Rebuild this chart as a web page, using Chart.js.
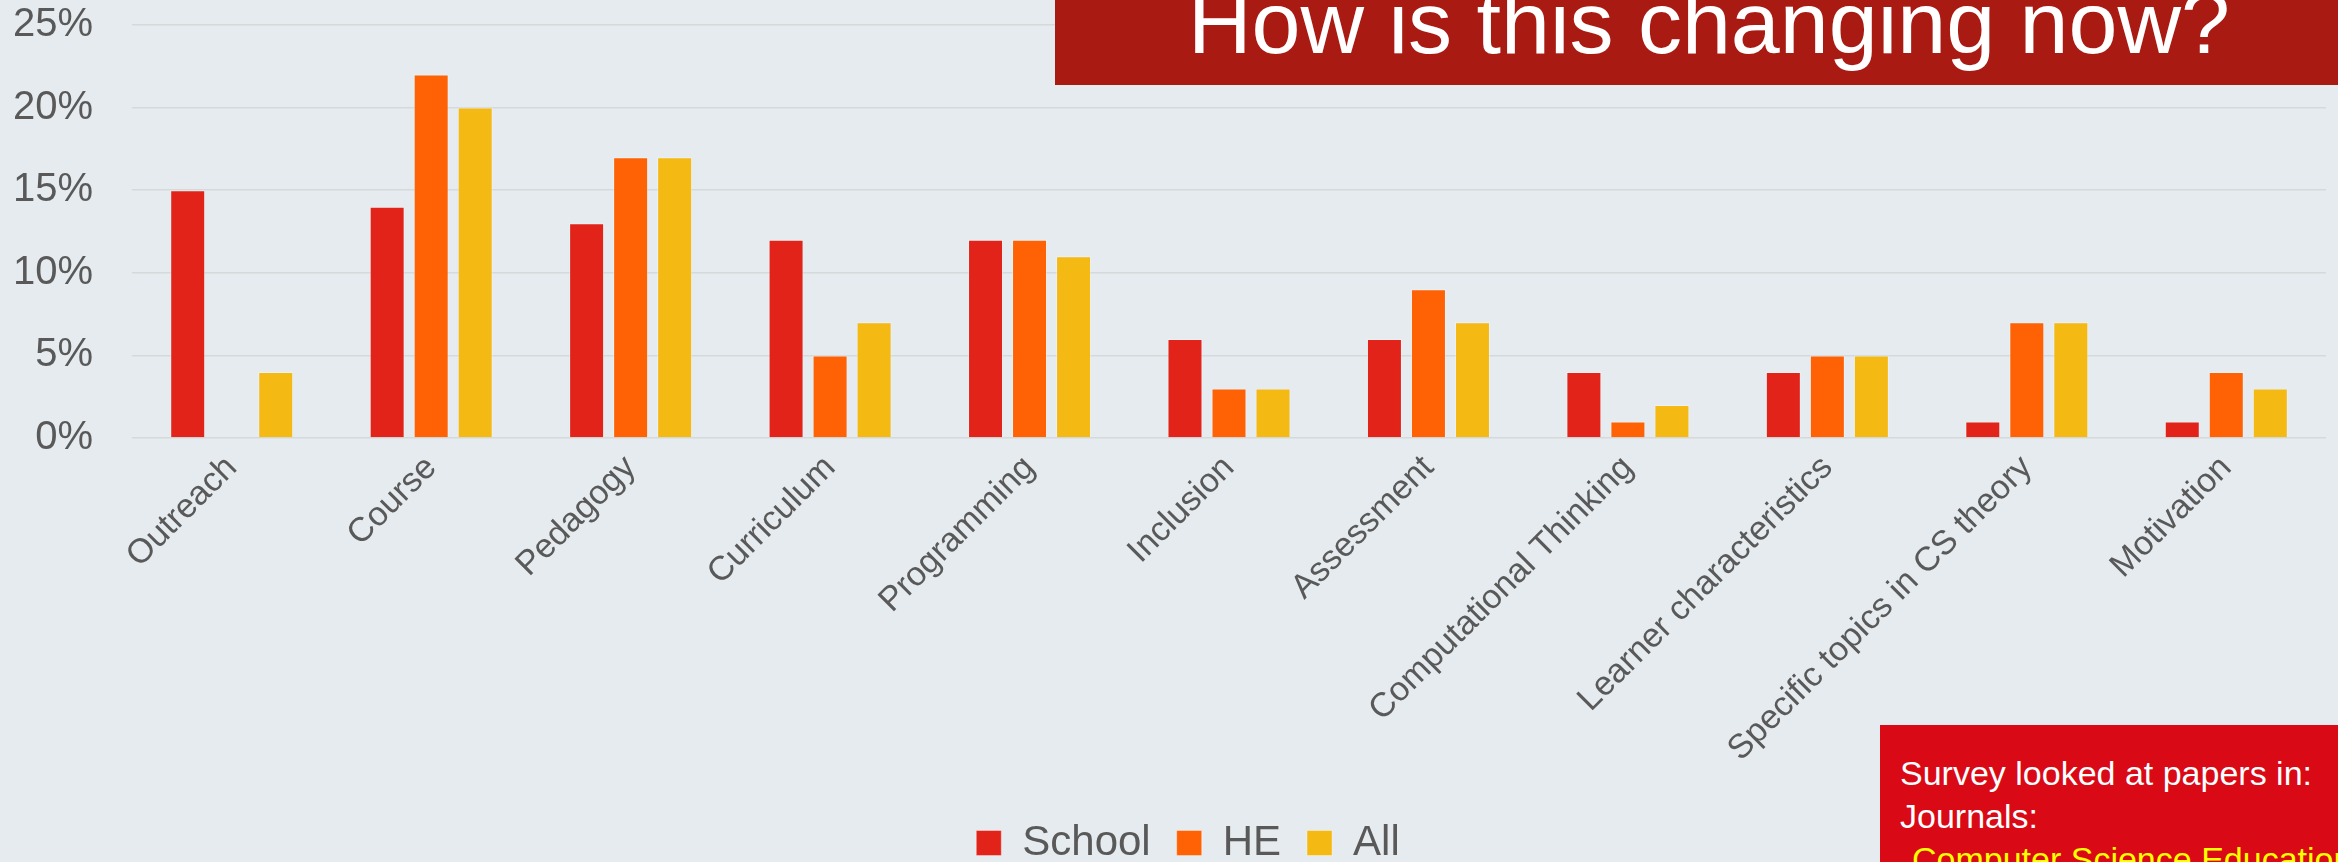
<!DOCTYPE html>
<html>
<head>
<meta charset="utf-8">
<script src="https://cdn.jsdelivr.net/npm/chart.js@4.4.1/dist/chart.umd.min.js"></script>
<style>
  html, body { margin: 0; padding: 0; background: #E5EBEE; overflow: hidden; }
  #wrap { position: relative; width: 2338px; height: 862px; }
  canvas { position: absolute; left: 0; top: 0; }
  #titleBox { position: absolute; left: 1055px; top: 0; width: 1283px; height: 85px; background: #A81A12; overflow: hidden; }
  #titleText { position: absolute; left: 133px; top: -21px; font-family: "Liberation Sans", Arial, sans-serif; font-size: 88px; line-height: 88px; color: #fff; white-space: nowrap; }
  #noteBox { position: absolute; left: 1880px; top: 725px; width: 458px; height: 137px; background: #D90916; overflow: hidden; }
  #noteText { position: absolute; left: 20px; top: 27px; font-family: "Liberation Sans", Arial, sans-serif; font-size: 34px; line-height: 43px; color: #fff; white-space: nowrap; }
  #noteText .y { color: #FFFF00; padding-left: 12px; }
</style>
</head>
<body>
<div id="wrap">
  <canvas id="c" width="2338" height="862"></canvas>
  <div id="titleBox"><span id="titleText">How is this changing now?</span></div>
  <div id="noteBox"><div id="noteText">Survey looked at papers in:<br>Journals:<br><span class="y">Computer Science Education</span></div></div>
</div>
<script>
const categories = ["Outreach", "Course", "Pedagogy", "Curriculum", "Programming", "Inclusion", "Assessment", "Computational Thinking", "Learner characteristics", "Specific topics in CS theory", "Motivation"];
const schoolValues = [15, 14, 13, 12, 12, 6, 6, 4, 4, 1, 1];
const heValues     = [0, 22, 17, 5, 12, 3, 9, 1, 5, 7, 4];
const allValues    = [4, 20, 17, 7, 11, 3, 7, 2, 5, 7, 3];
const seriesNames  = ["School", "HE", "All"];
const yTicks = [0, 5, 10, 15, 20, 25];

const colors = ["#E2231A", "#FF6105", "#F5B914"];
const textColor = "#595959";
const fontFamily = "'Liberation Sans', Arial, sans-serif";

Chart.defaults.font.family = fontFamily;

const legendTweakPlugin = {
  id: 'legendTweak',
  beforeInit(chart) {
    const lg = chart.legend;
    const origFit = lg.fit;
    lg.fit = function () {
      origFit.call(this);
      this.height = 66;
    };
  },
  afterLayout(chart) {
    const lg = chart.legend;
    if (lg) { lg.left += 25; lg.right += 25; }
  }
};

const mkDs = (label, data, color) => ({
  label, data,
  backgroundColor: color,
  borderColor: 'rgba(255,255,255,0.35)',
  borderWidth: 1,
  categoryPercentage: 0.662,
  barPercentage: 0.795
});

new Chart(document.getElementById('c'), {
  type: 'bar',
  data: {
    labels: categories,
    datasets: [
      mkDs(seriesNames[0], schoolValues, colors[0]),
      mkDs(seriesNames[1], heValues, colors[1]),
      mkDs(seriesNames[2], allValues, colors[2])
    ]
  },
  options: {
    responsive: false,
    animation: false,
    devicePixelRatio: 1,
    layout: { padding: { left: 0, right: 12, top: 25, bottom: 0 } },
    plugins: {
      tooltip: { enabled: false },
      legend: {
        position: 'bottom',
        labels: {
          boxWidth: 25,
          boxHeight: 25,
          padding: 26,
          color: textColor,
          font: { size: 42, family: fontFamily }
        }
      }
    },
    scales: {
      x: {
        grid: { display: false },
        border: { display: false },
        ticks: {
          color: textColor,
          font: { size: 34, family: fontFamily },
          minRotation: 45,
          maxRotation: 45,
          padding: 2,
          autoSkip: false
        },
        afterFit(scale) { scale.height = 358; }
      },
      y: {
        min: 0,
        max: 25,
        afterBuildTicks(scale) { scale.ticks = yTicks.map(v => ({ value: v })); },
        grid: { color: '#D6D9DA', lineWidth: 1.5, drawTicks: false },
        border: { display: false },
        ticks: {
          color: textColor,
          font: { size: 40, family: fontFamily },
          padding: 39,
          callback: v => v + '%'
        },
        afterFit(scale) {
          scale.width = 132;
          scale.paddingTop = 0;
          scale.paddingBottom = 0;
        }
      }
    }
  },
  plugins: [legendTweakPlugin]
});
</script>
</body>
</html>
